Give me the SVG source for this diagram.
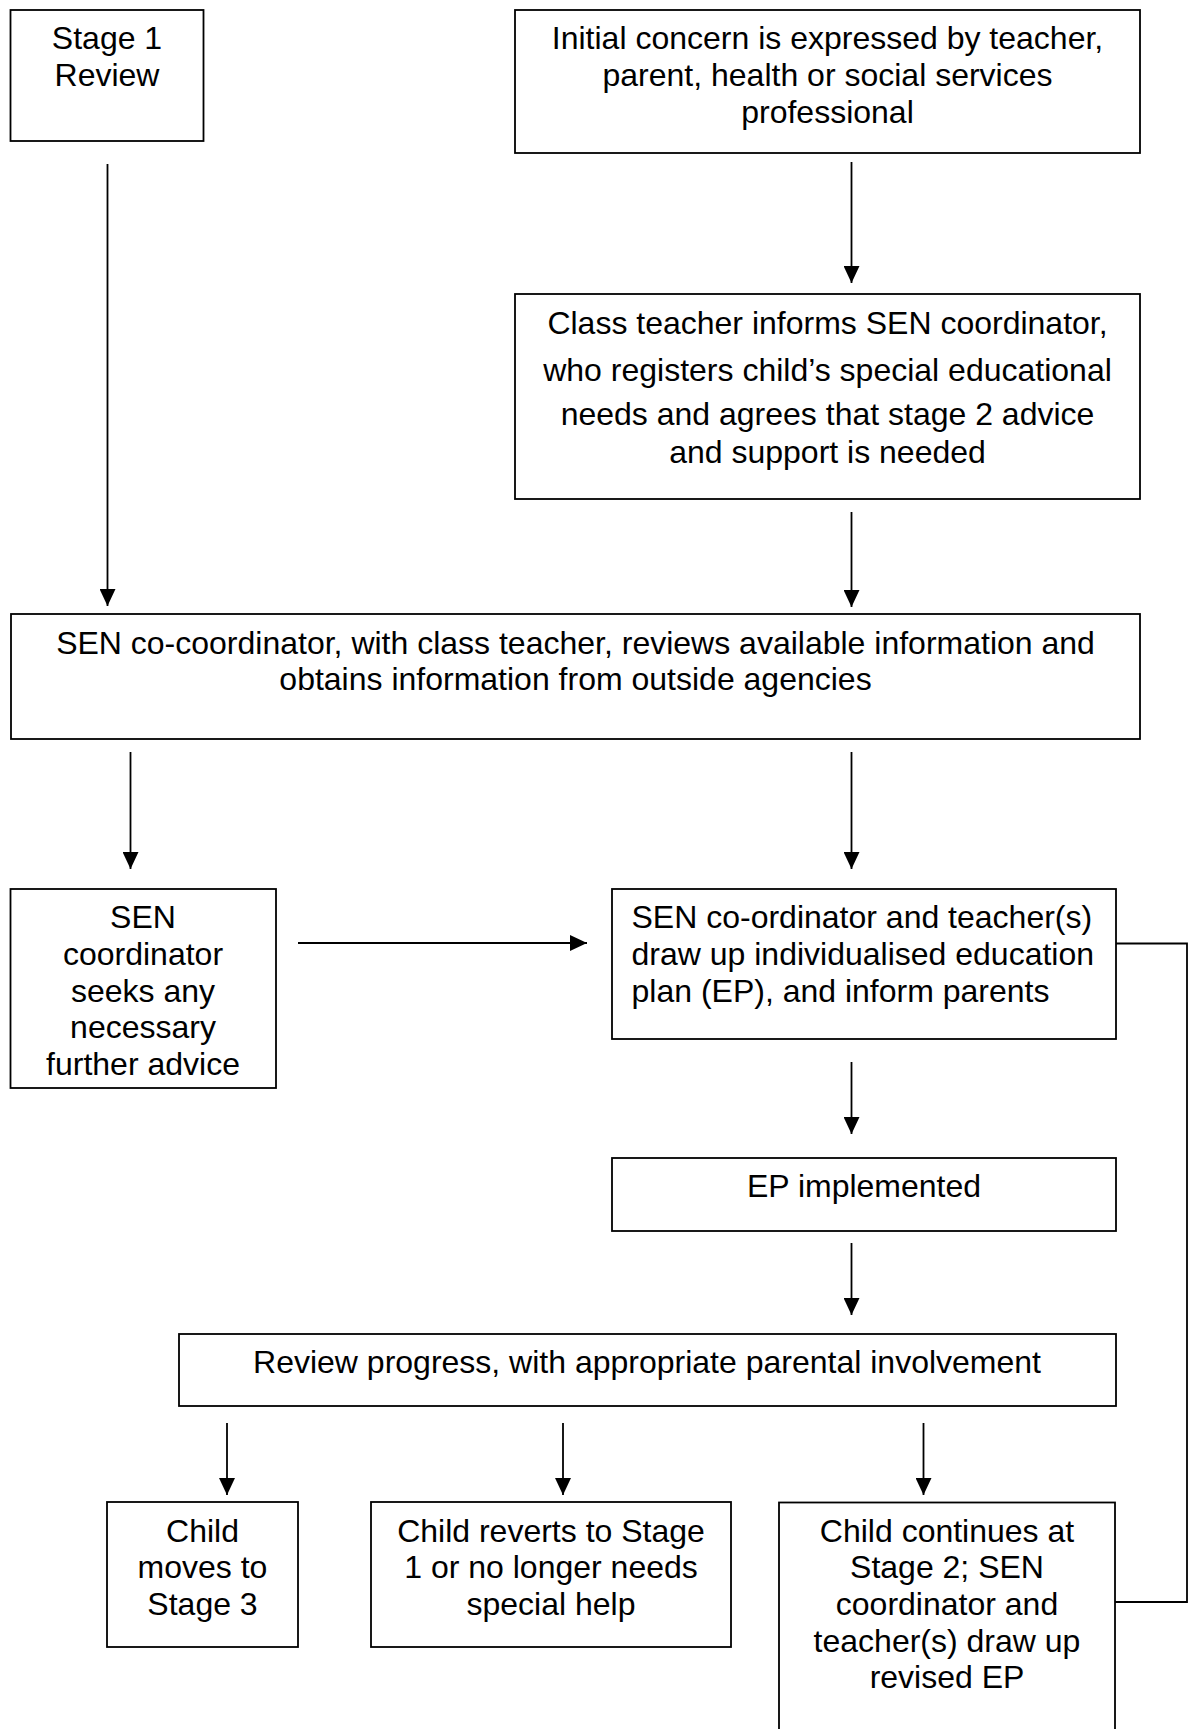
<svg xmlns="http://www.w3.org/2000/svg" width="1194" height="1729" viewBox="0 0 1194 1729">
<style>
  .box { fill: #ffffff; stroke: #000000; stroke-width: 1.8; }
  .txt { font-family: "Liberation Sans", Arial, sans-serif; font-size: 32px; fill: #000000; }
  .c { text-anchor: middle; }
  .conn { fill: none; stroke: #000000; stroke-width: 1.8; }
</style>
<defs>
  <marker id="arrow" markerUnits="userSpaceOnUse" markerWidth="17" markerHeight="16" refX="17" refY="8" orient="auto">
    <path d="M0,0 L17,8 L0,16 z" fill="#000000"/>
  </marker>
</defs>
<rect width="1194" height="1729" fill="#ffffff"/>

<g id="connectors">
  <line class="conn" x1="107.5" y1="164" x2="107.5" y2="606" marker-end="url(#arrow)"/>
  <line class="conn" x1="851.5" y1="162" x2="851.5" y2="283" marker-end="url(#arrow)"/>
  <line class="conn" x1="851.5" y1="512" x2="851.5" y2="607" marker-end="url(#arrow)"/>
  <line class="conn" x1="130.5" y1="752" x2="130.5" y2="869" marker-end="url(#arrow)"/>
  <line class="conn" x1="851.5" y1="752" x2="851.5" y2="869" marker-end="url(#arrow)"/>
  <line class="conn" x1="298" y1="943" x2="587" y2="943" stroke-width="2.2" marker-end="url(#arrow)"/>
  <line class="conn" x1="851.5" y1="1062" x2="851.5" y2="1134" marker-end="url(#arrow)"/>
  <line class="conn" x1="851.5" y1="1243" x2="851.5" y2="1315" marker-end="url(#arrow)"/>
  <line class="conn" x1="227" y1="1423" x2="227" y2="1495" marker-end="url(#arrow)"/>
  <line class="conn" x1="563" y1="1423" x2="563" y2="1495" marker-end="url(#arrow)"/>
  <line class="conn" x1="923.5" y1="1423" x2="923.5" y2="1495" marker-end="url(#arrow)"/>
  <polyline class="conn" points="1116,943.5 1187,943.5 1187,1602 1115,1602"/>
</g>

<g id="stage1">
  <rect class="box" x="10.5" y="10" width="193" height="131"/>
  <text class="txt c" x="107" y="49">Stage 1</text>
  <text class="txt c" x="107" y="86">Review</text>
</g>

<g id="initial-concern">
  <rect class="box" x="515" y="10" width="625" height="143"/>
  <text class="txt c" x="827.5" y="49">Initial concern is expressed by teacher,</text>
  <text class="txt c" x="827.5" y="86">parent, health or social services</text>
  <text class="txt c" x="827.5" y="123">professional</text>
</g>

<g id="class-teacher">
  <rect class="box" x="515" y="294" width="625" height="205"/>
  <text class="txt c" x="827.5" y="334">Class teacher informs SEN coordinator,</text>
  <text class="txt c" x="827.5" y="381">who registers child’s special educational</text>
  <text class="txt c" x="827.5" y="425">needs and agrees that stage 2 advice</text>
  <text class="txt c" x="827.5" y="463">and support is needed</text>
</g>

<g id="sen-review">
  <rect class="box" x="11" y="614" width="1129" height="125" stroke-width="2.2"/>
  <text class="txt c" x="575.5" y="654">SEN co-coordinator, with class teacher, reviews available information and</text>
  <text class="txt c" x="575.5" y="690">obtains information from outside agencies</text>
</g>

<g id="sen-advice">
  <rect class="box" x="10.5" y="889" width="265.5" height="199"/>
  <text class="txt c" x="143" y="928">SEN</text>
  <text class="txt c" x="143" y="965">coordinator</text>
  <text class="txt c" x="143" y="1002">seeks any</text>
  <text class="txt c" x="143" y="1038">necessary</text>
  <text class="txt c" x="143" y="1075">further advice</text>
</g>

<g id="iep">
  <rect class="box" x="612" y="889" width="504" height="150" stroke-width="2.2"/>
  <text class="txt" x="631.5" y="928">SEN co-ordinator and teacher(s)</text>
  <text class="txt" x="631.5" y="965">draw up individualised education</text>
  <text class="txt" x="631.5" y="1002">plan (EP), and inform parents</text>
</g>

<g id="ep-implemented">
  <rect class="box" x="612" y="1158" width="504" height="73" stroke-width="2.2"/>
  <text class="txt c" x="864" y="1197">EP implemented</text>
</g>

<g id="review-progress">
  <rect class="box" x="179" y="1334" width="937" height="72"/>
  <text class="txt c" x="647" y="1373">Review progress, with appropriate parental involvement</text>
</g>

<g id="stage3">
  <rect class="box" x="107" y="1502" width="191" height="145"/>
  <text class="txt c" x="202.5" y="1542">Child</text>
  <text class="txt c" x="202.5" y="1578">moves to</text>
  <text class="txt c" x="202.5" y="1615">Stage 3</text>
</g>

<g id="reverts">
  <rect class="box" x="371" y="1502" width="360" height="145"/>
  <text class="txt c" x="551" y="1542">Child reverts to Stage</text>
  <text class="txt c" x="551" y="1578">1 or no longer needs</text>
  <text class="txt c" x="551" y="1615">special help</text>
</g>

<g id="continues">
  <rect class="box" x="779" y="1502.5" width="336" height="240"/>
  <text class="txt c" x="947" y="1542">Child continues at</text>
  <text class="txt c" x="947" y="1578">Stage 2; SEN</text>
  <text class="txt c" x="947" y="1615">coordinator and</text>
  <text class="txt c" x="947" y="1652">teacher(s) draw up</text>
  <text class="txt c" x="947" y="1688">revised EP</text>
</g>
</svg>
